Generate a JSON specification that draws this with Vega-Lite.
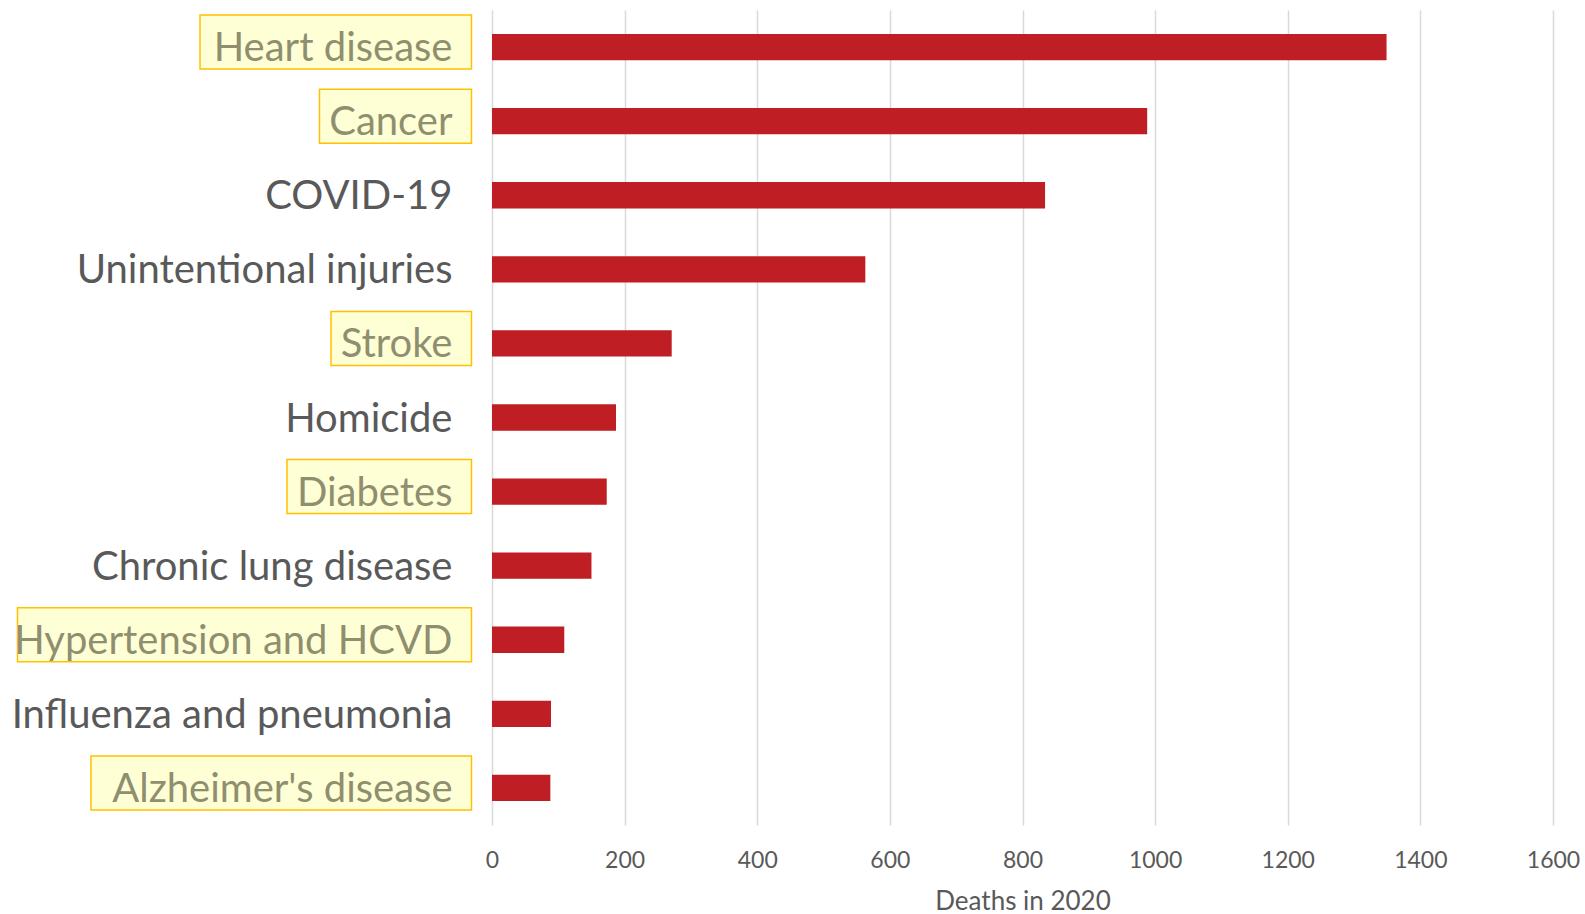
{
  "$schema": "https://vega.github.io/schema/vega-lite/v6.json",
  "width": 1061,
  "height": 815,
  "autosize": {"type": "none"},
  "padding": {"left": 492, "top": 10, "right": 32, "bottom": 89},
  "background": "white",
  "config": {"view": {"stroke": null}, "font": "Lato"},
  "data": {
    "values": [
      {"cause": "Heart disease", "deaths": 1349, "boxed": true},
      {"cause": "Cancer", "deaths": 988, "boxed": true},
      {"cause": "COVID-19", "deaths": 834, "boxed": false},
      {"cause": "Unintentional injuries", "deaths": 563, "boxed": false},
      {"cause": "Stroke", "deaths": 271, "boxed": true},
      {"cause": "Homicide", "deaths": 187, "boxed": false},
      {"cause": "Diabetes", "deaths": 173, "boxed": true},
      {"cause": "Chronic lung disease", "deaths": 150, "boxed": false},
      {"cause": "Hypertension and HCVD", "deaths": 109, "boxed": true},
      {"cause": "Influenza and pneumonia", "deaths": 89, "boxed": false},
      {"cause": "Alzheimer's disease", "deaths": 88, "boxed": true}
    ]
  },
  "encoding": {
    "y": {
      "field": "cause",
      "type": "nominal",
      "sort": null,
      "scale": {"paddingInner": 0.645, "paddingOuter": 0.3225},
      "axis": null
    }
  },
  "layer": [
    {
      "mark": {"type": "bar", "color": "#BE1E24"},
      "encoding": {
        "x": {
          "field": "deaths",
          "type": "quantitative",
          "scale": {"domain": [0, 1600], "nice": false},
          "axis": {
            "values": [0, 200, 400, 600, 800, 1000, 1200, 1400, 1600],
            "format": "d",
            "labelFlush": false,
            "grid": true,
            "gridColor": "#D9D9D9",
            "gridWidth": 1.5,
            "domain": false,
            "ticks": false,
            "labelFont": "Lato",
            "labelFontSize": 23,
            "labelColor": "#595959",
            "labelPadding": 24,
            "title": "Deaths in 2020",
            "titleFont": "Lato",
            "titleFontSize": 26,
            "titleFontWeight": "normal",
            "titleColor": "#595959",
            "titlePadding": 16
          }
        }
      }
    },
    {
      "transform": [
        {"filter": "datum.boxed"},
        {"calculate": "length(datum.cause) - length(replace(datum.cause, regexp('[A-Z]', 'g'), ''))", "as": "nUpper"},
        {"calculate": "length(datum.cause) - length(replace(datum.cause, regexp('[iljtfr\\' -]', 'g'), ''))", "as": "nNarrow"},
        {"calculate": "26.5 * datum.nUpper + 10.5 * datum.nNarrow + 22 * (length(datum.cause) - datum.nUpper - datum.nNarrow)", "as": "textWidth"},
        {"calculate": "-(39.5 + 8 + datum.textWidth) / 0.6631", "as": "boxLeft"},
        {"calculate": "-20.5 / 0.6631", "as": "boxRight"}
      ],
      "mark": {
        "type": "bar",
        "height": 54,
        "fill": "#FFFFD6",
        "stroke": "#FFC000",
        "strokeWidth": 1.5,
        "yOffset": -5
      },
      "encoding": {
        "x": {"field": "boxLeft", "type": "quantitative"},
        "x2": {"field": "boxRight"}
      }
    },
    {
      "mark": {
        "type": "text",
        "align": "right",
        "baseline": "middle",
        "dx": -39.5,
        "dy": 2,
        "font": "Lato",
        "fontSize": 40
      },
      "encoding": {
        "x": {"datum": 0},
        "text": {"field": "cause"},
        "color": {
          "condition": {"test": "datum.boxed", "value": "#8F8F70"},
          "value": "#595959"
        }
      }
    }
  ]
}
